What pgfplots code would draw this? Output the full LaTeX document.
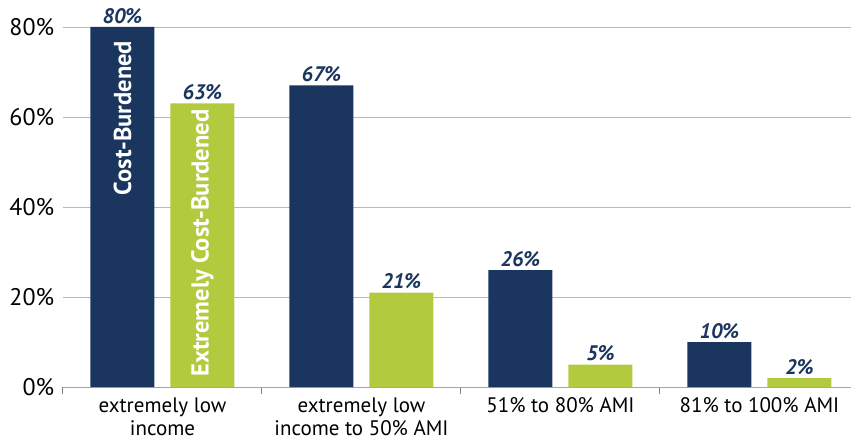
\documentclass[border=0pt]{standalone}
\usepackage{pgfplots}
\pgfplotsset{compat=1.18}
\usepackage{fontspec}
\setmainfont{PT Sans}
\definecolor{navy}{RGB}{27,54,94}
\definecolor{lime}{RGB}{178,203,62}
\begin{document}
\begin{tikzpicture}
\begin{axis}[
  at={(0,0)}, anchor=south west,
  scale only axis, width=788pt, height=387pt,
  ybar=16pt, bar width=64pt,
  xmin=-0.5, xmax=3.46, ymin=0, ymax=86,
  axis x line*=bottom, axis y line*=left,
  x axis line style={draw=gray!70, line width=1pt},
  y axis line style={draw=none},
  xtick={0,1,2,3},
  xticklabels={{extremely low\\income},{extremely low\\income to 50\% AMI},{51\% to 80\% AMI},{81\% to 100\% AMI}},
  xticklabel style={align=center, font=\fontsize{21}{23}\selectfont, text=black, yshift=-3pt},
  major x tick style={draw=none},
  minor xtick={-0.5,0.5,1.5,2.5},
  minor tick length=7pt, tick align=outside,
  minor x tick style={draw=gray, line width=1pt},
  ytick={0,20,40,60,80},
  yticklabel={\pgfmathprintnumber{\tick}\%},
  yticklabel style={font=\fontsize{24}{26}\selectfont, xshift=-1pt},
  /pgf/number format/assume math mode=true,
  major y tick style={draw=none},
  ymajorgrids, grid style={draw=gray!55, line width=0.8pt},
  nodes near coords={\pgfmathprintnumber{\pgfplotspointmeta}\%},
  every node near coord/.append style={font=\bfseries\itshape\fontsize{21}{23}\selectfont, text=navy, inner sep=3.5pt},
]
\addplot[fill=navy, draw=none] coordinates {(0,80) (1,67) (2,26) (3,10)};
\addplot[fill=lime, draw=none] coordinates {(0,63) (1,21) (2,5) (3,2)};
\node[xshift=-40pt, rotate=90, text=white, font=\bfseries\fontsize{24.5}{26}\selectfont] at (axis cs:0,59.8) {Cost-Burdened};
\node[xshift=40pt, rotate=90, text=white, font=\bfseries\fontsize{24.5}{26}\selectfont] at (axis cs:0,32) {Extremely Cost-Burdened};
\end{axis}
\pgfresetboundingbox
\path[use as bounding box] (-63pt,-60pt) rectangle (788pt,387pt);
\end{tikzpicture}
\end{document}
